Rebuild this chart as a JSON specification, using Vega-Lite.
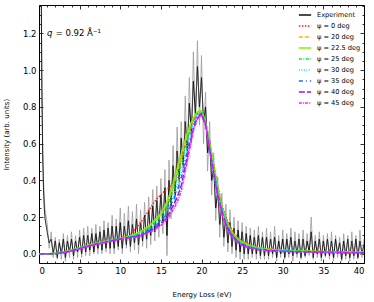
{
"$schema": "https://vega.github.io/schema/vega-lite/v6.json",
"width": 325, "height": 258,
"autosize": {"type": "none"},
"padding": {"left": 39, "top": 5, "right": 10, "bottom": 39},
"config": {"font": "DejaVu Sans", "view": {"stroke": "#000", "strokeWidth": 1},
  "axis": {"grid": false, "domain": false, "tickColor": "#000", "tickWidth": 0.8, "labelColor": "#000", "titleColor": "#000", "labelFontSize": 8.5, "titleFontSize": 7, "titleFontWeight": "normal"},
  "legend": {"orient": "top-right", "offset": 3, "padding": 0, "labelFontSize": 6.6, "symbolType": "stroke", "symbolSize": 150, "symbolStrokeWidth": 1.6, "rowPadding": -3, "labelOffset": 5, "title": null}},
"datasets": {
"exp": [
{"x":0.15,"E":3.0,"G":3.0},{"x":0.25,"E":1.6,"G":1.8},{"x":0.35,"E":0.9,"G":1.0},{"x":0.45,"E":0.55,"G":0.6},{"x":0.55,"E":0.36,"G":0.4},{"x":0.65,"E":0.25,"G":0.3},{"x":0.75,"E":0.19,"G":0.24},{"x":1.0,"E":0.12,"G":0.17},{"x":1.25,"E":0.06,"G":0.03},{"x":1.5,"E":0.08,"G":0.12},
{"x":1.75,"E":0.0,"G":-0.02},{"x":2.0,"E":0.07,"G":0.09},{"x":2.25,"E":-0.02,"G":-0.03},{"x":2.5,"E":0.06,"G":0.08},{"x":2.75,"E":0.0,"G":-0.03},{"x":3.0,"E":0.08,"G":0.11},{"x":3.25,"E":-0.02,"G":-0.04},{"x":3.5,"E":0.07,"G":0.1},{"x":3.75,"E":0.01,"G":-0.02},{"x":4.0,"E":0.08,"G":0.12},
{"x":4.25,"E":-0.01,"G":-0.03},{"x":4.5,"E":0.07,"G":0.1},{"x":4.75,"E":0.01,"G":-0.02},{"x":5.0,"E":0.09,"G":0.13},{"x":5.25,"E":0.0,"G":-0.02},{"x":5.5,"E":0.1,"G":0.14},{"x":5.75,"E":0.01,"G":-0.01},{"x":6.0,"E":0.1,"G":0.15},{"x":6.25,"E":0.02,"G":-0.01},{"x":6.5,"E":0.11,"G":0.14},
{"x":6.75,"E":0.01,"G":0.0},{"x":7.0,"E":0.11,"G":0.16},{"x":7.25,"E":0.03,"G":0.0},{"x":7.5,"E":0.12,"G":0.15},{"x":7.75,"E":0.02,"G":0.0},{"x":8.0,"E":0.13,"G":0.18},{"x":8.25,"E":0.03,"G":0.01},{"x":8.5,"E":0.14,"G":0.17},{"x":8.75,"E":0.03,"G":0.0},{"x":9.0,"E":0.15,"G":0.21},
{"x":9.25,"E":0.03,"G":0.0},{"x":9.5,"E":0.15,"G":0.19},{"x":9.75,"E":0.04,"G":0.02},{"x":10.0,"E":0.17,"G":0.25},{"x":10.25,"E":0.03,"G":0.0},{"x":10.5,"E":0.15,"G":0.22},{"x":10.75,"E":0.05,"G":0.03},{"x":11.0,"E":0.18,"G":0.26},{"x":11.25,"E":0.04,"G":0.01},{"x":11.5,"E":0.16,"G":0.23},
{"x":11.75,"E":0.06,"G":0.02},{"x":12.0,"E":0.19,"G":0.27},{"x":12.25,"E":0.05,"G":0.0},{"x":12.5,"E":0.17,"G":0.24},{"x":12.75,"E":0.07,"G":0.04},{"x":13.0,"E":0.21,"G":0.28},{"x":13.25,"E":0.08,"G":0.03},{"x":13.5,"E":0.24,"G":0.31},{"x":13.75,"E":0.1,"G":0.05},{"x":14.0,"E":0.26,"G":0.35},
{"x":14.25,"E":0.12,"G":0.07},{"x":14.5,"E":0.29,"G":0.37},{"x":14.75,"E":0.15,"G":0.09},{"x":15.0,"E":0.32,"G":0.41},{"x":15.25,"E":0.17,"G":0.11},{"x":15.5,"E":0.36,"G":0.46},{"x":15.75,"E":0.1,"G":-0.01},{"x":16.0,"E":0.4,"G":0.51},{"x":16.25,"E":0.26,"G":0.19},{"x":16.5,"E":0.48,"G":0.59},
{"x":16.75,"E":0.32,"G":0.27},{"x":17.0,"E":0.56,"G":0.69},{"x":17.25,"E":0.4,"G":0.35},{"x":17.5,"E":0.63,"G":0.72},{"x":17.75,"E":0.48,"G":0.44},{"x":18.0,"E":0.72,"G":0.86},{"x":18.25,"E":0.56,"G":0.5},{"x":18.5,"E":0.82,"G":0.96},{"x":18.75,"E":0.66,"G":0.6},{"x":19.0,"E":0.94,"G":1.1},
{"x":19.25,"E":0.76,"G":0.7},{"x":19.5,"E":1.02,"G":1.16},{"x":19.75,"E":0.8,"G":0.7},{"x":20.0,"E":0.96,"G":1.08},{"x":20.25,"E":0.72,"G":0.6},{"x":20.5,"E":0.8,"G":0.88},{"x":20.75,"E":0.55,"G":0.45},{"x":21.0,"E":0.62,"G":0.72},{"x":21.25,"E":0.4,"G":0.32},{"x":21.5,"E":0.46,"G":0.55},
{"x":21.75,"E":0.25,"G":0.18},{"x":22.0,"E":0.34,"G":0.42},{"x":22.25,"E":0.16,"G":0.09},{"x":22.5,"E":0.26,"G":0.33},{"x":22.75,"E":0.09,"G":0.04},{"x":23.0,"E":0.2,"G":0.27},{"x":23.25,"E":0.06,"G":0.01},{"x":23.5,"E":0.17,"G":0.24},{"x":23.75,"E":0.04,"G":0.0},{"x":24.0,"E":0.14,"G":0.2},
{"x":24.25,"E":0.02,"G":-0.02},{"x":24.5,"E":0.13,"G":0.18},{"x":24.75,"E":0.01,"G":-0.03},{"x":25.0,"E":0.12,"G":0.17},{"x":25.25,"E":0.0,"G":-0.03},{"x":25.5,"E":0.11,"G":0.15},{"x":25.75,"E":0.0,"G":-0.03},{"x":26.0,"E":0.1,"G":0.14},{"x":26.25,"E":0.0,"G":-0.02},{"x":26.5,"E":0.09,"G":0.13},
{"x":26.75,"E":0.0,"G":-0.03},{"x":27.0,"E":0.1,"G":0.15},{"x":27.25,"E":-0.01,"G":-0.03},{"x":27.5,"E":0.09,"G":0.12},{"x":27.75,"E":-0.01,"G":-0.03},{"x":28.0,"E":0.09,"G":0.14},{"x":28.25,"E":-0.01,"G":-0.03},{"x":28.5,"E":0.08,"G":0.12},{"x":28.75,"E":0.0,"G":-0.02},{"x":29.0,"E":0.09,"G":0.15},
{"x":29.25,"E":-0.02,"G":-0.04},{"x":29.5,"E":0.07,"G":0.1},{"x":29.75,"E":0.0,"G":-0.02},{"x":30.0,"E":0.08,"G":0.13},{"x":30.25,"E":-0.02,"G":-0.03},{"x":30.5,"E":0.08,"G":0.11},{"x":30.75,"E":0.0,"G":-0.02},{"x":31.0,"E":0.09,"G":0.14},{"x":31.25,"E":-0.01,"G":-0.04},{"x":31.5,"E":0.07,"G":0.12},
{"x":31.75,"E":0.0,"G":-0.02},{"x":32.0,"E":0.08,"G":0.11},{"x":32.25,"E":-0.02,"G":-0.03},{"x":32.5,"E":0.08,"G":0.13},{"x":32.75,"E":-0.01,"G":-0.02},{"x":33.0,"E":0.07,"G":0.11},{"x":33.25,"E":0.01,"G":-0.01},{"x":33.5,"E":0.12,"G":0.2},{"x":33.75,"E":-0.02,"G":-0.03},{"x":34.0,"E":0.07,"G":0.1},
{"x":34.25,"E":0.0,"G":-0.02},{"x":34.5,"E":0.08,"G":0.12},{"x":34.75,"E":-0.02,"G":-0.04},{"x":35.0,"E":0.07,"G":0.1},{"x":35.25,"E":-0.01,"G":-0.02},{"x":35.5,"E":0.08,"G":0.11},{"x":35.75,"E":-0.01,"G":-0.03},{"x":36.0,"E":0.07,"G":0.12},{"x":36.25,"E":-0.02,"G":-0.04},{"x":36.5,"E":0.08,"G":0.1},
{"x":36.75,"E":0.0,"G":-0.02},{"x":37.0,"E":0.06,"G":0.09},{"x":37.25,"E":-0.03,"G":-0.04},{"x":37.5,"E":0.07,"G":0.11},{"x":37.75,"E":-0.01,"G":-0.03},{"x":38.0,"E":0.08,"G":0.1},{"x":38.25,"E":-0.02,"G":-0.04},{"x":38.5,"E":0.07,"G":0.12},{"x":38.75,"E":-0.01,"G":-0.03},{"x":39.0,"E":0.08,"G":0.1},
{"x":39.25,"E":-0.02,"G":-0.03},{"x":39.5,"E":0.07,"G":0.13},{"x":39.75,"E":0.0,"G":-0.02},{"x":40.0,"E":0.05,"G":0.08}
],
"model": [
{"x":0,"a":0,"b":0,"c":0,"d":0,"f":0,"h":0,"i":0,"j":0},
{"x":1,"a":0,"b":0,"c":0,"d":0,"f":0,"h":0,"i":0,"j":0},
{"x":2,"a":0.003,"b":0.003,"c":0.003,"d":0.002,"f":0.002,"h":0.001,"i":0.0,"j":0.0},
{"x":3,"a":0.01,"b":0.01,"c":0.01,"d":0.009,"f":0.008,"h":0.007,"i":0.006,"j":0.005},
{"x":4,"a":0.02,"b":0.02,"c":0.02,"d":0.019,"f":0.018,"h":0.017,"i":0.016,"j":0.015},
{"x":5,"a":0.032,"b":0.032,"c":0.033,"d":0.031,"f":0.03,"h":0.029,"i":0.028,"j":0.027},
{"x":6,"a":0.045,"b":0.045,"c":0.045,"d":0.044,"f":0.043,"h":0.042,"i":0.041,"j":0.04},
{"x":7,"a":0.055,"b":0.055,"c":0.055,"d":0.054,"f":0.053,"h":0.052,"i":0.051,"j":0.05},
{"x":8,"a":0.065,"b":0.065,"c":0.065,"d":0.064,"f":0.063,"h":0.062,"i":0.061,"j":0.06},
{"x":9,"a":0.075,"b":0.075,"c":0.075,"d":0.074,"f":0.073,"h":0.072,"i":0.071,"j":0.07},
{"x":10,"a":0.085,"b":0.085,"c":0.085,"d":0.084,"f":0.083,"h":0.082,"i":0.081,"j":0.08},
{"x":11,"a":0.1,"b":0.094,"c":0.095,"d":0.093,"f":0.09,"h":0.089,"i":0.087,"j":0.085},
{"x":12,"a":0.14,"b":0.108,"c":0.11,"d":0.105,"f":0.1,"h":0.097,"i":0.093,"j":0.09},
{"x":13,"a":0.2,"b":0.132,"c":0.135,"d":0.128,"f":0.12,"h":0.116,"i":0.11,"j":0.105},
{"x":13.5,"a":0.235,"b":0.147,"c":0.15,"d":0.141,"f":0.133,"h":0.127,"i":0.12,"j":0.115},
{"x":14,"a":0.27,"b":0.166,"c":0.17,"d":0.159,"f":0.148,"h":0.141,"i":0.132,"j":0.125},
{"x":14.5,"a":0.3,"b":0.19,"c":0.195,"d":0.181,"f":0.168,"h":0.159,"i":0.148,"j":0.14},
{"x":15,"a":0.32,"b":0.214,"c":0.22,"d":0.204,"f":0.188,"h":0.178,"i":0.165,"j":0.155},
{"x":15.5,"a":0.345,"b":0.252,"c":0.26,"d":0.239,"f":0.218,"h":0.205,"i":0.188,"j":0.175},
{"x":16,"a":0.36,"b":0.299,"c":0.31,"d":0.283,"f":0.255,"h":0.239,"i":0.217,"j":0.2},
{"x":16.5,"a":0.39,"b":0.366,"c":0.38,"d":0.345,"f":0.31,"h":0.289,"i":0.261,"j":0.24},
{"x":17,"a":0.45,"b":0.442,"c":0.46,"d":0.415,"f":0.37,"h":0.343,"i":0.307,"j":0.28},
{"x":17.5,"a":0.53,"b":0.52,"c":0.54,"d":0.49,"f":0.44,"h":0.41,"i":0.37,"j":0.34},
{"x":18,"a":0.61,"b":0.603,"c":0.62,"d":0.578,"f":0.535,"h":0.51,"i":0.476,"j":0.45},
{"x":18.5,"a":0.68,"b":0.677,"c":0.69,"d":0.658,"f":0.625,"h":0.606,"i":0.58,"j":0.56},
{"x":19,"a":0.73,"b":0.733,"c":0.74,"d":0.723,"f":0.705,"h":0.695,"i":0.68,"j":0.67},
{"x":19.5,"a":0.76,"b":0.771,"c":0.775,"d":0.765,"f":0.755,"h":0.749,"i":0.741,"j":0.735},
{"x":20,"a":0.765,"b":0.778,"c":0.78,"d":0.774,"f":0.768,"h":0.764,"i":0.759,"j":0.755},
{"x":20.5,"a":0.72,"b":0.718,"c":0.72,"d":0.715,"f":0.71,"h":0.707,"i":0.703,"j":0.7},
{"x":21,"a":0.61,"b":0.596,"c":0.6,"d":0.59,"f":0.58,"h":0.574,"i":0.566,"j":0.56},
{"x":21.5,"a":0.49,"b":0.475,"c":0.48,"d":0.468,"f":0.455,"h":0.448,"i":0.438,"j":0.43},
{"x":22,"a":0.37,"b":0.355,"c":0.36,"d":0.348,"f":0.335,"h":0.328,"i":0.318,"j":0.31},
{"x":22.5,"a":0.27,"b":0.256,"c":0.26,"d":0.25,"f":0.24,"h":0.234,"i":0.226,"j":0.22},
{"x":23,"a":0.2,"b":0.187,"c":0.19,"d":0.181,"f":0.173,"h":0.167,"i":0.16,"j":0.155},
{"x":23.5,"a":0.15,"b":0.137,"c":0.14,"d":0.133,"f":0.125,"h":0.121,"i":0.115,"j":0.11},
{"x":24,"a":0.11,"b":0.103,"c":0.105,"d":0.099,"f":0.093,"h":0.089,"i":0.084,"j":0.08},
{"x":24.5,"a":0.085,"b":0.078,"c":0.08,"d":0.075,"f":0.07,"h":0.067,"i":0.063,"j":0.06},
{"x":25,"a":0.068,"b":0.063,"c":0.065,"d":0.06,"f":0.055,"h":0.052,"i":0.048,"j":0.045},
{"x":26,"a":0.047,"b":0.044,"c":0.045,"d":0.041,"f":0.038,"h":0.035,"i":0.032,"j":0.03},
{"x":27,"a":0.034,"b":0.032,"c":0.033,"d":0.03,"f":0.028,"h":0.026,"i":0.024,"j":0.022},
{"x":28,"a":0.027,"b":0.025,"c":0.026,"d":0.024,"f":0.022,"h":0.02,"i":0.018,"j":0.017},
{"x":30,"a":0.02,"b":0.019,"c":0.02,"d":0.018,"f":0.016,"h":0.015,"i":0.013,"j":0.012},
{"x":32,"a":0.016,"b":0.015,"c":0.016,"d":0.015,"f":0.013,"h":0.012,"i":0.011,"j":0.01},
{"x":35,"a":0.012,"b":0.012,"c":0.012,"d":0.011,"f":0.01,"h":0.009,"i":0.008,"j":0.008},
{"x":40,"a":0.008,"b":0.008,"c":0.008,"d":0.007,"f":0.007,"h":0.006,"i":0.005,"j":0.005}
]
},
"resolve": {"axis": {"x": "independent", "y": "independent"}},
"layer": [
{"data": {"name": "exp"},
 "mark": {"type": "line", "clip": true, "color": "#9a9a9a", "strokeWidth": 0.8},
 "encoding": {
  "x": {"field": "x", "type": "quantitative", "scale": {"domain": [0, 40], "nice": false, "zero": false},
        "axis": {"orient": "bottom", "values": [0,5,10,15,20,25,30,35,40], "tickSize": -4, "labelPadding": 7, "title": "Energy Loss (eV)", "titlePadding": 16}},
  "y": {"field": "G", "type": "quantitative", "scale": {"domain": [-0.05, 1.355], "nice": false, "zero": false},
        "axis": {"orient": "left", "values": [0,0.2,0.4,0.6,0.8,1.0,1.2], "format": ".1f", "tickSize": -4, "labelPadding": 7, "title": "Intensity (arb. units)", "titlePadding": 13}}
 }},
{"data": {"name": "exp"},
 "transform": [{"fold": ["E"], "as": ["s", "v"]}],
 "mark": {"type": "line", "clip": true, "strokeWidth": 1},
 "encoding": {
  "x": {"field": "x", "type": "quantitative", "axis": {"orient": "top", "values": [0,5,10,15,20,25,30,35,40], "tickSize": -4, "labels": false, "title": null}},
  "y": {"field": "v", "type": "quantitative", "axis": {"orient": "right", "values": [0,0.2,0.4,0.6,0.8,1.0,1.2], "tickSize": -4, "labels": false, "title": null}},
  "color": {"field": "s", "type": "nominal",
    "scale": {"domain": ["E","a","b","c","d","f","h","i","j"], "range": ["#111111","#ff1a1a","#ffb300","#8cf000","#00e85a","#00eeee","#1a6cff","#8a1aff","#ff1aff"]},
    "legend": {"labelExpr": "{'E':'Experiment','a':'ψ = 0 deg','b':'ψ = 20 deg','c':'ψ = 22.5 deg','d':'ψ = 25 deg','f':'ψ = 30 deg','h':'ψ = 35 deg','i':'ψ = 40 deg','j':'ψ = 45 deg'}[datum.label]"}},
  "strokeDash": {"field": "s", "type": "nominal",
    "scale": {"domain": ["E","a","b","c","d","f","h","i","j"], "range": [[1,0],[1.5,1.5],[4,2],[1,0],[3,1.5,1,1.5],[1,1.5],[4,3,1,3],[6,2],[3,1,1,1]]},
    "legend": {"labelExpr": "{'E':'Experiment','a':'ψ = 0 deg','b':'ψ = 20 deg','c':'ψ = 22.5 deg','d':'ψ = 25 deg','f':'ψ = 30 deg','h':'ψ = 35 deg','i':'ψ = 40 deg','j':'ψ = 45 deg'}[datum.label]"}}
 }},
{"data": {"name": "model"},
 "transform": [{"fold": ["a","b","c","d","f","h","i","j"], "as": ["s", "v"]}],
 "mark": {"type": "line", "clip": true},
 "encoding": {
  "x": {"field": "x", "type": "quantitative", "axis": {"orient": "bottom", "values": [1,2,3,4,6,7,8,9,11,12,13,14,16,17,18,19,21,22,23,24,26,27,28,29,31,32,33,34,36,37,38,39], "tickSize": -2, "labels": false, "title": null}},
  "y": {"field": "v", "type": "quantitative", "axis": {"orient": "left", "values": [-0.05,0.05,0.1,0.15,0.25,0.3,0.35,0.45,0.5,0.55,0.65,0.7,0.75,0.85,0.9,0.95,1.05,1.1,1.15,1.25,1.3,1.35], "tickSize": -2, "labels": false, "title": null}},
  "color": {"field": "s", "type": "nominal"},
  "strokeDash": {"field": "s", "type": "nominal"},
  "strokeWidth": {"field": "s", "type": "nominal", "scale": {"domain": ["a","b","c","d","f","h","i","j"], "range": [1.5,1.5,2,1.5,1.5,1.5,1.5,1.5]}, "legend": null}
 }},
{"data": {"values": [{"x": 0.98, "y": 1.2, "t": "q"}]},
 "mark": {"type": "text", "align": "left", "baseline": "middle", "fontStyle": "italic", "fontSize": 8.5, "color": "#000"},
 "encoding": {
  "x": {"field": "x", "type": "quantitative", "axis": {"orient": "top", "values": [1,2,3,4,6,7,8,9,11,12,13,14,16,17,18,19,21,22,23,24,26,27,28,29,31,32,33,34,36,37,38,39], "tickSize": -2, "labels": false, "title": null}},
  "y": {"field": "y", "type": "quantitative", "axis": {"orient": "right", "values": [-0.05,0.05,0.1,0.15,0.25,0.3,0.35,0.45,0.5,0.55,0.65,0.7,0.75,0.85,0.9,0.95,1.05,1.1,1.15,1.25,1.3,1.35], "tickSize": -2, "labels": false, "title": null}},
  "text": {"field": "t"}
 }},
{"data": {"values": [{"x": 2.05, "y": 1.2, "t": "= 0.92 Å⁻¹"}]},
 "mark": {"type": "text", "align": "left", "baseline": "middle", "fontSize": 8.5, "color": "#000"},
 "encoding": {
  "x": {"field": "x", "type": "quantitative", "axis": null},
  "y": {"field": "y", "type": "quantitative", "axis": null},
  "text": {"field": "t"}
 }}
]
}
